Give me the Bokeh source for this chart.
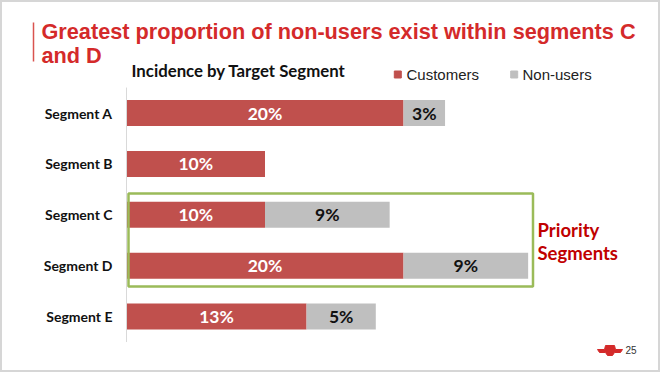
from bokeh.plotting import figure
from bokeh.models import Range1d, ColumnDataSource, BoxAnnotation
from bokeh.core.properties import value
from bokeh.embed import file_html
from bokeh.resources import INLINE

# ---- data ----
segments = ["Segment A", "Segment B", "Segment C", "Segment D", "Segment E"]
customers = [20, 10, 10, 20, 13]
non_users = [3, 0, 9, 9, 5]
series_names = ["Customers", "Non-users"]
title_lines = ["Greatest proportion of non-users exist within segments C", "and D"]
subtitle = "Incidence by Target Segment"
callout_lines = ["Priority", "Segments"]
priority = ["Segment C", "Segment D"]
page_number = "25"

RED = "#C0504D"
GRAY = "#BFBFBF"
GREEN = "#9BBB59"
TITLE_RED = "#D42A2A"
DARK_RED = "#C00000"

W, H = 660, 372
# layout helpers: reference-pixel -> data coordinates
X0, PXX = 126.0, 13.85      # 0% position and px per percent
Y0, PXY = 112.5, 50.9       # first row centre and px per row
def dx(px):
    return (px - X0) / PXX
def dy(py):
    return (py - Y0) / PXY

p = figure(width=W, height=H, output_backend="svg", toolbar_location=None,
           x_range=Range1d(dx(0), dx(W)), y_range=Range1d(dy(H), dy(0)),
           x_axis_location=None, y_axis_location=None, min_border=0)
p.grid.visible = False
p.outline_line_color = "#D6D6D6"
p.outline_line_width = 3
p.background_fill_color = "white"
p.border_fill_color = "white"

rows = list(range(len(segments)))
totals = [c + n for c, n in zip(customers, non_users)]
src = ColumnDataSource(dict(
    y=rows, seg=segments, cust=customers, non=non_users, tot=totals,
    cmid=[c / 2 for c in customers],
    nmid=[c + n / 2 for c, n in zip(customers, non_users)],
    clab=[f"{c}%" for c in customers],
    nlab=[f"{n}%" if n > 0 else "" for n in non_users],
))

bar_h = 26 / PXY
p.hbar(y="y", left=0, right="cust", height=bar_h, fill_color=RED, line_color=None, source=src)
p.hbar(y="y", left="cust", right="tot", height=bar_h, fill_color=GRAY, line_color=None, source=src)

# axis line
p.segment(x0=[0], y0=[-0.5], x1=[0], y1=[len(segments) - 0.5], line_color="#D9D9D9", line_width=1)

bold_font = value("Lato")
p.text(x="cmid", y="y", text="clab", source=src, text_color="white", text_font=bold_font,
       text_font_style="bold", text_font_size="17.5px", text_align="center", text_baseline="middle")
p.text(x="nmid", y="y", text="nlab", source=src, text_color="#111111", text_font=bold_font,
       text_font_style="bold", text_font_size="17.5px", text_align="center", text_baseline="middle")
p.text(x=dx(112), y="y", text="seg", source=src, text_color="#111111", text_font=bold_font,
       text_font_style="bold", text_font_size="14px", text_align="right", text_baseline="middle")

# priority box around segments C and D
pi = [segments.index(s) for s in priority]
box = BoxAnnotation(left=dx(128), right=max(totals[i] for i in pi) + 0.35,
                    top=min(pi) - 0.42, bottom=max(pi) + 0.41,
                    fill_alpha=0, line_color=GREEN, line_alpha=1.0, line_width=2.5)
p.add_layout(box)
p.text(x=[dx(537)] * 2, y=[dy(229), dy(252)], text=callout_lines, text_color=DARK_RED,
       text_font=bold_font, text_font_style="bold", text_font_size="18.5px",
       text_align="left", text_baseline="middle")

# title
p.segment(x0=[dx(33)], y0=[dy(22)], x1=[dx(33)], y1=[dy(61)], line_color="#D9534F", line_width=1.5)
p.text(x=[dx(41)] * 2, y=[dy(31), dy(55)], text=title_lines, text_color=TITLE_RED,
       text_font=value("Liberation Sans"), text_font_style="bold", text_font_size="21.7px",
       text_align="left", text_baseline="middle")
p.text(x=[dx(131)], y=[dy(70)], text=[subtitle], text_color="#111111", text_font=bold_font,
       text_font_style="bold", text_font_size="16.8px", text_align="left", text_baseline="middle")

# legend
p.scatter(x=[dx(397.3), dx(513.7)], y=[dy(74)] * 2, marker="square", size=7,
          color=[RED, GRAY])
p.text(x=[dx(406), dx(522)], y=[dy(74)] * 2, text=series_names, text_color="#222222",
       text_font=value("Liberation Sans"), text_font_size="15px",
       text_align="left", text_baseline="middle")

# footer: logo + page number
lx = [597, 604, 605, 614, 615, 622, 620, 614, 612, 607, 605, 599]
ly = [349, 349, 345, 345, 349, 349, 352, 352, 355, 355, 352, 352]
p.patch(x=[dx(v) for v in lx], y=[dy(v) for v in ly], color="#D42A2A")
p.text(x=[dx(625)], y=[dy(349)], text=[page_number], text_color="#333333",
       text_font=value("Liberation Sans"), text_font_size="10px",
       text_align="left", text_baseline="middle")

open("out.html", "w").write(file_html(p, INLINE))
